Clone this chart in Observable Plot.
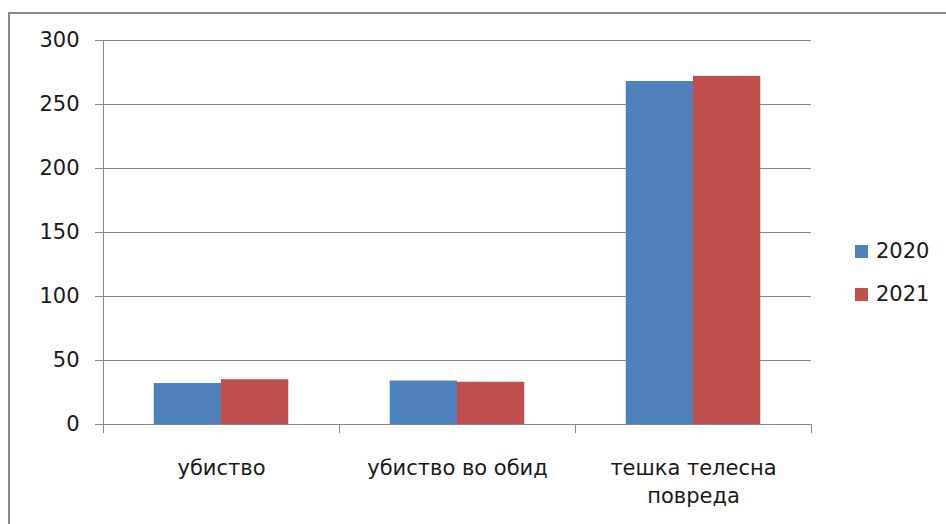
<!DOCTYPE html>
<html>
<head>
<meta charset="utf-8">
<script src="https://cdn.jsdelivr.net/npm/d3@7"></script>
<script src="https://cdn.jsdelivr.net/npm/@observablehq/plot@0.6"></script>
<style>
  html, body { margin: 0; padding: 0; background: #fff; }
  #wrap { position: relative; width: 946px; height: 524px; overflow: hidden; font-family: "DejaVu Sans", sans-serif; color: #1a1a1a; }
  #border { position: absolute; left: 8px; top: 12px; width: 2000px; height: 2000px; border-top: 2px solid #8a8a8a; border-left: 2px solid #8a8a8a; box-sizing: border-box; }
  #chart { position: absolute; left: 0; top: 0; }
  #legend { position: absolute; left: 855px; top: 236px; font-size: 21px; }
  .item { display: flex; align-items: center; height: 30px; margin-bottom: 13px; }
  .sw { width: 13px; height: 13px; margin-right: 8px; }
</style>
</head>
<body>
<div id="wrap">
  <div id="border"></div>
  <div id="chart"></div>
  <div id="legend"></div>
</div>
<script>
const categories = ["убиство", "убиство во обид", "тешка телесна повреда"];
const categoryLabels = ["убиство", "убиство во обид", "тешка телесна\nповреда"];
const years = ["2020", "2021"];
const values2020 = [32, 34, 268];
const values2021 = [35, 33, 272];
const yTicks = [0, 50, 100, 150, 200, 250, 300];
const colors = ["#4F81BD", "#C0504D"];

const data = categories.flatMap((c, i) => [
  {category: c, year: years[0], value: values2020[i]},
  {category: c, year: years[1], value: values2021[i]}
]);

const grey = "#868686";

const chart = Plot.plot({
  width: 946,
  height: 524,
  marginLeft: 102,
  marginRight: 134,
  marginTop: 40,
  marginBottom: 100,
  style: {fontFamily: "DejaVu Sans, sans-serif", fontSize: "21px", color: "#1a1a1a", background: "transparent", overflow: "visible"},
  fx: {domain: categories, padding: 0, label: null},
  x: {domain: years, paddingInner: 0, paddingOuter: 0.754, axis: null, round: false},
  y: {domain: [0, 300], label: null},
  color: {domain: years, range: colors},
  marks: [
    Plot.ruleY(yTicks, {stroke: grey, strokeOpacity: 1}),
    Plot.barY(data, {fx: "category", x: "year", y: "value", fill: "year"}),
    Plot.frame({anchor: "left", facetAnchor: "left", stroke: grey, strokeOpacity: 1}),
    Plot.frame({anchor: "left", insetTop: 384, insetBottom: -8, stroke: grey, strokeOpacity: 1}),
    Plot.frame({anchor: "right", insetTop: 384, insetBottom: -8, stroke: grey, strokeOpacity: 1}),
    Plot.axisY({ticks: yTicks, tickSize: 8, tickPadding: 16, fontSize: 21, stroke: grey, strokeOpacity: 1, label: null}),
    Plot.axisFx({anchor: "bottom", tickSize: 0, tickPadding: 31, fontSize: 21, lineHeight: 1.33,
      tickFormat: d => categoryLabels[categories.indexOf(d)], label: null})
  ]
});
document.getElementById("chart").appendChild(chart);

const legend = document.getElementById("legend");
years.forEach((y, i) => {
  const item = document.createElement("div");
  item.className = "item";
  const sw = document.createElement("div");
  sw.className = "sw";
  sw.style.background = colors[i];
  const t = document.createElement("span");
  t.textContent = y;
  item.appendChild(sw);
  item.appendChild(t);
  legend.appendChild(item);
});
</script>
</body>
</html>
